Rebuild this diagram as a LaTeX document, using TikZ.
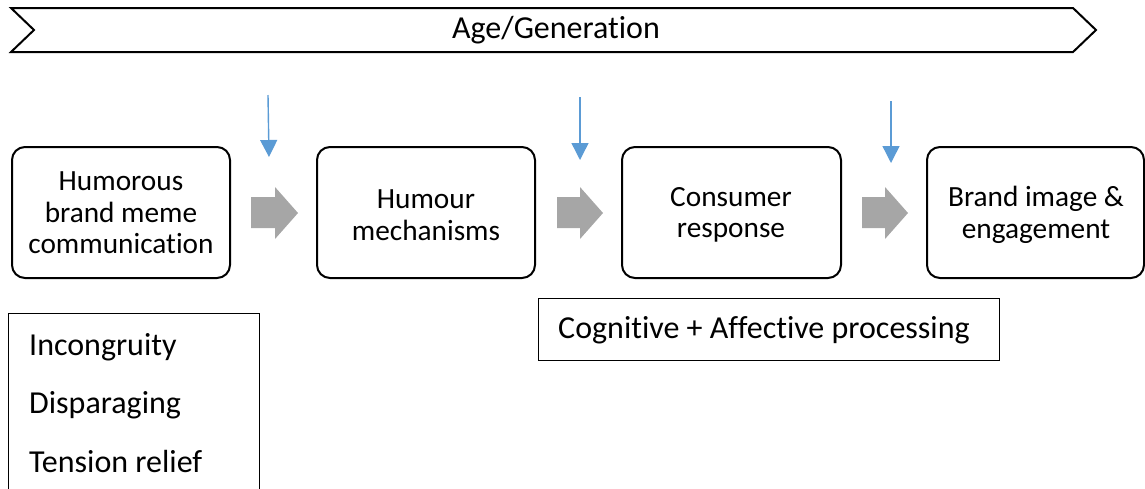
\documentclass[tikz,border=0pt]{standalone}
\usepackage{fontspec}
\setmainfont[Ligatures=NoCommon]{Carlito}
\usetikzlibrary{arrows.meta}
\definecolor{arrgray}{HTML}{A6A6A6}
\definecolor{arrblue}{HTML}{5B9BD5}
\tikzset{
  stage/.style={draw=black, line width=2pt, rounded corners=13pt, fill=white},
  stagetext/.style={align=center, font=\fontsize{29.3}{31.5}\selectfont, inner sep=0pt},
  listbox/.style={draw=black, line width=1pt},
  listtext/.style={anchor=base west, font=\fontsize{32}{36}\selectfont, inner sep=0pt},
  bluearrow/.style={draw=arrblue, line width=1.4pt, -{Triangle[width=17pt,length=17pt]}},
  blockarrow/.style={fill=arrgray, draw=none},
}
\begin{document}
\begin{tikzpicture}[x=1pt,y=-1pt]
\useasboundingbox (0,0) rectangle (1145,488);
% banner
\draw[line width=2pt, line join=miter] (11,8) -- (1073,8) -- (1096,30) -- (1073,52) -- (11,52) -- (34,30) -- cycle;
\node[font=\fontsize{32}{36}\selectfont, inner sep=0pt] (age) at (556,30) {Age/Generation};
% stage boxes
\draw[stage] (12,147) rectangle (230,278);
\node[stagetext] (s1) at (121,213) {Humorous\\brand meme\\communication};
\draw[stage] (317,147) rectangle (535,278);
\node[stagetext] (s2) at (426,215) {Humour\\mechanisms};
\draw[stage] (622,147) rectangle (841,278);
\node[stagetext] (s3) at (731,215) {Consumer\\response};
\draw[stage] (927,147) rectangle (1144,278);
\node[stagetext] (s4) at (1036,215) {Brand image \&\\engagement};
% gray block arrows
\fill[blockarrow] (251,197) -- (275,197) -- (275,187) -- (298,213) -- (275,239) -- (275,228) -- (251,228) -- cycle;
\fill[blockarrow] (557,197) -- (580,197) -- (580,187) -- (603,213) -- (580,239) -- (580,228) -- (557,228) -- cycle;
\fill[blockarrow] (862,197) -- (885,197) -- (885,187) -- (908,213) -- (885,239) -- (885,228) -- (862,228) -- cycle;
% blue arrows
\coordinate (b1s) at (268,95); \coordinate (b1e) at (269,157);
\coordinate (b2s) at (580,97); \coordinate (b2e) at (580,160);
\coordinate (b3s) at (891,101); \coordinate (b3e) at (891,163);
\draw[bluearrow] (b1s) -- (b1e);
\draw[bluearrow] (b2s) -- (b2e);
\draw[bluearrow] (b3s) -- (b3e);
% list box
\draw[listbox] (8,495) -- (8,313) -- (259,313) -- (259,495);
\node[listtext] (l1) at (29,355) {Incongruity};
\node[listtext] (l2) at (29,413) {Disparaging};
\node[listtext] (l3) at (29,472) {Tension relief};
% processing box
\draw[listbox] (538,298) rectangle (999,360);
\node[anchor=west, font=\fontsize{32}{36}\selectfont, inner sep=0pt] (proc) at (558,330) {Cognitive + Affective processing};
\end{tikzpicture}
\end{document}
